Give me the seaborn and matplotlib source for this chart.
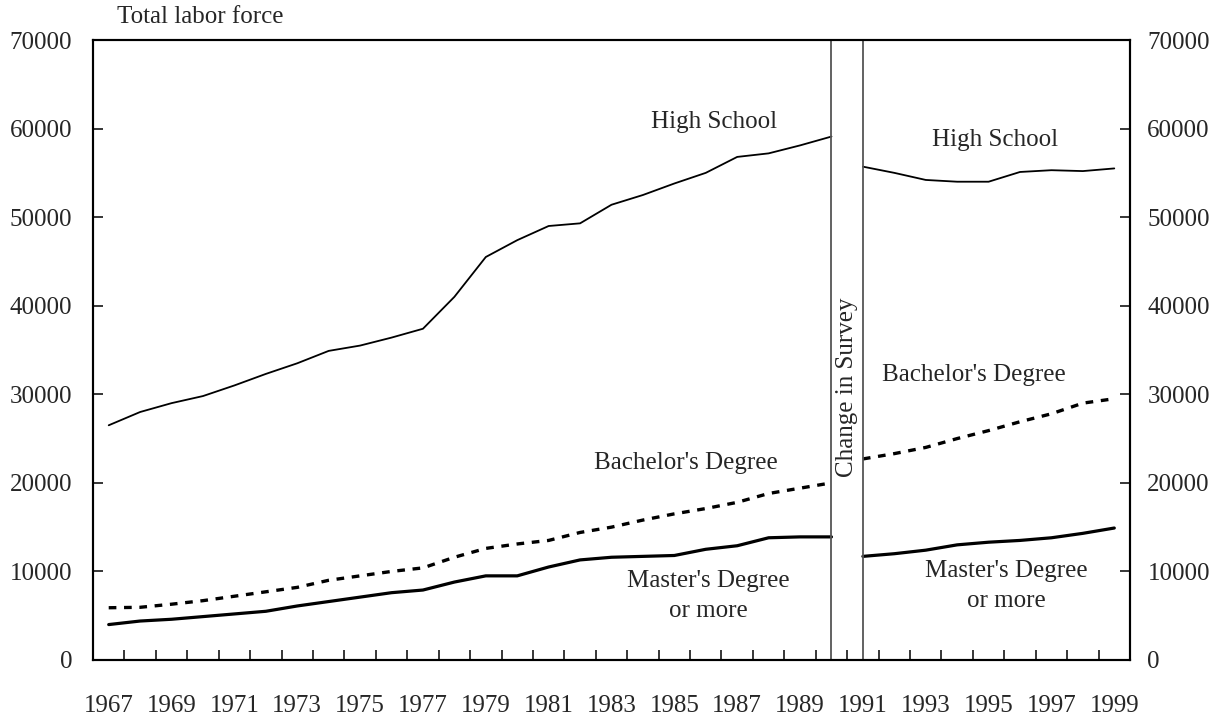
import matplotlib
matplotlib.use("Agg")
import matplotlib.pyplot as plt
import seaborn as sns
import numpy as np

# ---- data ----
years_a = list(range(1967, 1991))
years_b = list(range(1991, 2000))
high_school_a = [26500, 28000, 29000, 29800, 31000, 32300, 33500, 34900, 35500, 36400,
                 37400, 41000, 45500, 47400, 49000, 49300, 51400, 52500, 53800, 55000,
                 56800, 57200, 58100, 59100]
high_school_b = [55700, 55000, 54200, 54000, 54000, 55100, 55300, 55200, 55500]
bachelor_a = [5900, 5950, 6300, 6700, 7200, 7700, 8200, 9000, 9500, 10000,
              10400, 11600, 12600, 13100, 13500, 14400, 15000, 15800, 16500, 17100,
              17800, 18800, 19400, 20000]
bachelor_b = [22700, 23300, 24000, 25000, 25900, 26900, 27800, 29000, 29500]
master_a = [4000, 4400, 4600, 4900, 5200, 5500, 6100, 6600, 7100, 7600,
            7900, 8800, 9500, 9500, 10500, 11300, 11600, 11700, 11800, 12500,
            12900, 13800, 13900, 13900]
master_b = [11700, 12000, 12400, 13000, 13300, 13500, 13800, 14300, 14900]
label_years = list(range(1967, 2000, 2))
y_ticks = [0, 10000, 20000, 30000, 40000, 50000, 60000, 70000]

sns.set_style("ticks")
plt.rcParams['font.family'] = ['Liberation Serif', 'DejaVu Serif']
FS = 18

fig = plt.figure(figsize=(12.24, 7.15), dpi=100)
ax = fig.add_axes([93/1224, 55/715, (1130-93)/1224, 620/715])

sns.lineplot(x=years_a, y=high_school_a, ax=ax, color='black', lw=1.3)
sns.lineplot(x=years_b, y=high_school_b, ax=ax, color='black', lw=1.3)
sns.lineplot(x=years_a, y=bachelor_a, ax=ax, color='black', lw=2.4, linestyle=(0, (2.3, 2.3)))
sns.lineplot(x=years_b, y=bachelor_b, ax=ax, color='black', lw=2.4, linestyle=(0, (2.3, 2.3)))
sns.lineplot(x=years_a, y=master_a, ax=ax, color='black', lw=2.3)
sns.lineplot(x=years_b, y=master_b, ax=ax, color='black', lw=2.3)

# survey change band
ax.axvline(years_a[-1], color='#555555', lw=1.3)
ax.axvline(years_b[0], color='#555555', lw=1.3)
ax.text((years_a[-1] + years_b[0]) / 2, 30800, "Change in Survey", rotation=90,
        ha='center', va='center', fontsize=FS)

ax.set_xlim(1966.5, 1999.5)
ax.set_ylim(0, 70000)
ax.set_xticks(label_years)
ax.set_xticklabels([str(y) for y in label_years], fontsize=FS)
ax.set_xticks(np.arange(1967.5, 1999, 1.0), minor=True)
ax.tick_params(axis='x', which='major', length=0, pad=25)
ax.tick_params(axis='x', which='minor', direction='in', length=7, width=1.3)
ax.set_yticks(y_ticks)
ax.set_yticklabels([str(v) for v in y_ticks], fontsize=FS)
ax.tick_params(axis='y', direction='in', length=7, width=1.3, pad=15)
ax.set_xlabel("")
ax.set_ylabel("")

ax2 = ax.twinx()
ax2.set_ylim(0, 70000)
ax2.set_yticks(y_ticks)
ax2.set_yticklabels([str(v) for v in y_ticks], fontsize=FS)
ax2.tick_params(axis='y', direction='in', length=7, width=1.3, pad=12.5)

for a in (ax, ax2):
    for s in a.spines.values():
        s.set_color('black')
        s.set_linewidth(1.5)
        s.set_visible(True)

fig.text(117/1224, 1 - 17/715, "Total labor force", fontsize=FS, ha='left', va='center')

def px(x, y):
    return (x/1224, 1 - y/715)

fig.text(*px(714, 122), "High School", fontsize=FS, ha='center', va='center')
fig.text(*px(995, 140), "High School", fontsize=FS, ha='center', va='center')
fig.text(*px(686, 463), "Bachelor's Degree", fontsize=FS, ha='center', va='center')
fig.text(*px(974, 375), "Bachelor's Degree", fontsize=FS, ha='center', va='center')
fig.text(*px(708, 596), "Master's Degree\nor more", fontsize=FS, ha='center', va='center',
         linespacing=1.45)
fig.text(*px(1006, 586), "Master's Degree\nor more", fontsize=FS, ha='center', va='center',
         linespacing=1.45)

fig.savefig("out.png", dpi=100)
